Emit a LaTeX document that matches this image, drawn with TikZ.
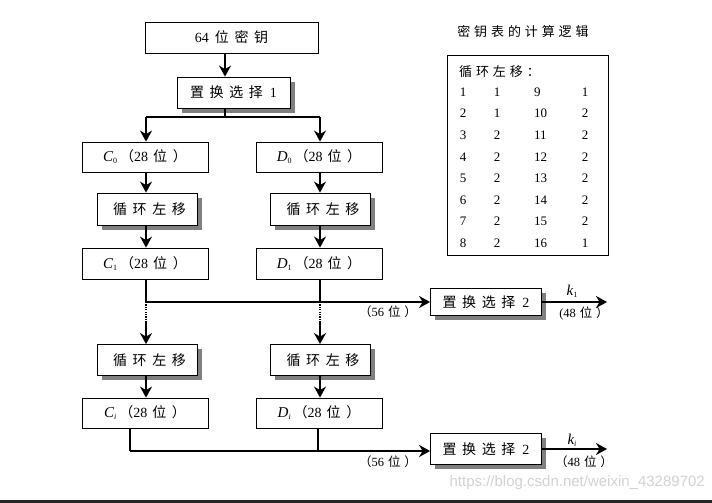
\documentclass[tikz,border=0pt]{standalone}
\usepackage{fontspec}
\setmainfont{Liberation Serif}
\newfontfamily\cjk[LetterSpace=40]{Noto Sans CJK SC}
\newfontfamily\cjkt[LetterSpace=30]{Noto Sans CJK SC}
\newfontfamily\wm{Liberation Sans}
\newcommand{\vC}[1]{{\fontsize{15}{16}\selectfont\itshape #1}}
\newcommand{\lsub}[1]{\raisebox{-2pt}{\fontsize{8}{9}\selectfont #1}}
\usetikzlibrary{arrows.meta,backgrounds}
\begin{document}
\begin{tikzpicture}[x=1pt,y=-1pt,
  box/.style={draw, line width=0.8pt, fill=white, inner sep=0pt, font=\fontsize{14}{16}\selectfont},
  shbox/.style={box},
  shadowfill/.style={fill=black!50},
  wire/.style={line width=1.7pt},
  arr/.style={wire, -{Stealth[length=11pt,width=12pt,inset=3.5pt]}},
  lab/.style={font=\fontsize{12.5}{14}\selectfont, inner sep=0pt},
  cell/.style={font=\fontsize{13}{14}\selectfont, inner sep=0pt}]
\useasboundingbox (0,0) rectangle (712,503);
\fill[white] (0,0) rectangle (712,503);
% shadows (drawn first, boxes cover them)
\foreach \cx/\cy/\w/\h in {233.5/92.5/113/31, 147/209/100/32, 320.5/209/100/32, 147/360/100/31, 320.5/360/100/31, 486/302/111/27, 486/449/111/31} {
  \fill[shadowfill] (\cx-\w/2+4.5, \cy-\h/2+4.5) rectangle (\cx+\w/2+4.5, \cy+\h/2+4.5);
}
% main boxes
\node[box, minimum width=173pt, minimum height=31pt] (key) at (231.5,37.5) {64\hspace{6pt}{\cjk 位密钥}};
\node[shbox, minimum width=113pt, minimum height=31pt] (pc1) at (233.5,92.5) {{\cjk 置换选择}\hspace{7pt}1};
\node[box, minimum width=126pt, minimum height=30pt] (c0) at (145,157) {\vC{C}\lsub{0}\hspace{3pt}{\cjk （}28\hspace{5pt}{\cjk 位）}};
\node[box, minimum width=126pt, minimum height=30pt] (d0) at (319,157) {\vC{D}\lsub{0}\hspace{3pt}{\cjk （}28\hspace{5pt}{\cjk 位）}};
\node[shbox, minimum width=100pt, minimum height=32pt] (l1) at (147,209) {\hspace{5pt}{\cjk 循环左移}};
\node[shbox, minimum width=100pt, minimum height=32pt] (r1) at (320.5,209) {\hspace{5pt}{\cjk 循环左移}};
\node[box, minimum width=126pt, minimum height=31pt] (c1) at (145,263.5) {\vC{C}\lsub{1}\hspace{3pt}{\cjk （}28\hspace{5pt}{\cjk 位）}};
\node[box, minimum width=126pt, minimum height=31pt] (d1) at (319,263.5) {\vC{D}\lsub{1}\hspace{3pt}{\cjk （}28\hspace{5pt}{\cjk 位）}};
\node[shbox, minimum width=100pt, minimum height=31pt] (l2) at (147,360) {\hspace{5pt}{\cjk 循环左移}};
\node[shbox, minimum width=100pt, minimum height=31pt] (r2) at (320.5,360) {\hspace{5pt}{\cjk 循环左移}};
\node[box, minimum width=126pt, minimum height=30pt] (ci) at (145,413) {\vC{C}\lsub{\itshape i}\hspace{3pt}{\cjk （}28\hspace{5pt}{\cjk 位）}};
\node[box, minimum width=126pt, minimum height=30pt] (di) at (319,413) {\vC{D}\lsub{\itshape i}\hspace{3pt}{\cjk （}28\hspace{5pt}{\cjk 位）}};
\node[shbox, minimum width=111pt, minimum height=27pt] (p2a) at (486,302) {{\cjk 置换选择}\hspace{7pt}2};
\node[shbox, minimum width=111pt, minimum height=31pt] (p2b) at (486,449) {{\cjk 置换选择}\hspace{7pt}2};
\fill[black!85] (0,500) rectangle (712,503);
% coordinates
\coordinate (t1) at (225,117);
\coordinate (tl) at (146,117);
\coordinate (tr) at (320,117);
\coordinate (m1) at (146,302);
\coordinate (m2) at (320,302);
\coordinate (ml) at (146,321);
\coordinate (mr) at (320,321);
\coordinate (b1) at (130,451);
\coordinate (b2) at (318,451);
\coordinate (k1end) at (607,302);
\coordinate (kiend) at (607,449);
% connectors
\draw[arr] (key.south -| t1) -- (pc1.north -| t1);
\draw[wire] (pc1.south -| t1) -- (t1);
\draw[wire] (tl) -- (tr);
\draw[arr] (tl) -- (c0.north -| tl);
\draw[arr] (tr) -- (d0.north -| tr);
\draw[arr] (c0.south -| tl) -- (l1.north -| tl);
\draw[arr] (d0.south -| tr) -- (r1.north -| tr);
\draw[arr] (l1.south -| tl) -- (c1.north -| tl);
\draw[arr] (r1.south -| tr) -- (d1.north -| tr);
\draw[wire] (c1.south -| m1) -- (m1);
\draw[wire] (d1.south -| m2) -- (m2);
\draw[arr] (m1) -- (p2a.west);
\draw[line width=1.7pt, dash pattern=on 1.2pt off 1.2pt] (m1) -- (ml);
\draw[line width=1.7pt, dash pattern=on 1.2pt off 1.2pt] (m2) -- (mr);
\draw[arr] (ml) -- (l2.north -| ml);
\draw[arr] (mr) -- (r2.north -| mr);
\draw[arr] (l2.south -| ml) -- (ci.north -| ml);
\draw[arr] (r2.south -| mr) -- (di.north -| mr);
\draw[wire] (ci.south -| b1) -- (b1);
\draw[wire] (di.south -| b2) -- (b2);
\draw[arr] (b1) -- (p2b.west |- b1);
\draw[arr] (p2a.east) -- (k1end);
\draw[arr] (p2b.east |- kiend) -- (kiend);
% labels
\node[lab] (l56a) at (388,312) {{\cjkt （}56\hspace{4pt}{\cjkt 位）}};
\node[lab] (l56b) at (388,462) {{\cjkt （}56\hspace{4pt}{\cjkt 位）}};
\node[lab] (k1) at (572,291) {\vC{k}\lsub{1}};
\node[lab] (ki) at (572,440) {\vC{k}\lsub{\itshape i}};
\node[lab] (l48a) at (584,313) {(48\hspace{4pt}{\cjkt 位）}};
\node[lab] (l48b) at (584,462) {{\cjkt （}48\hspace{4pt}{\cjkt 位）}};
% table
\node[lab, font=\cjkt\fontsize{13}{15}\selectfont] (ttl) at (523,32) {密钥表的计算逻辑};
\draw[line width=0.8pt] (447,55) rectangle (608,255);
\node[lab, font=\cjkt\fontsize{13}{15}\selectfont, anchor=west] (tsub) at (459,72) {循环左移：};
\foreach \r/\a/\b/\c/\d in {1/1/1/9/1, 2/2/1/10/2, 3/3/2/11/2, 4/4/2/12/2, 5/5/2/13/2, 6/6/2/14/2, 7/7/2/15/2, 8/8/2/16/1} {
  \pgfmathsetmacro\yy{92+(\r-1)*21.6}
  \node[cell] (ta\r) at (463,\yy) {\a};
  \node[cell] (tb\r) at (497,\yy) {\b};
  \node[cell, anchor=west] (tc\r) at (534,\yy) {\c};
  \node[cell] (td\r) at (585,\yy) {\d};
}
% watermark
\node[inner sep=0pt, text=gray!35, font=\wm\fontsize{15}{17}\selectfont, anchor=east] (wmk) at (705,483) {https://blog.csdn.net/weixin\_43289702};
\end{tikzpicture}
\end{document}
